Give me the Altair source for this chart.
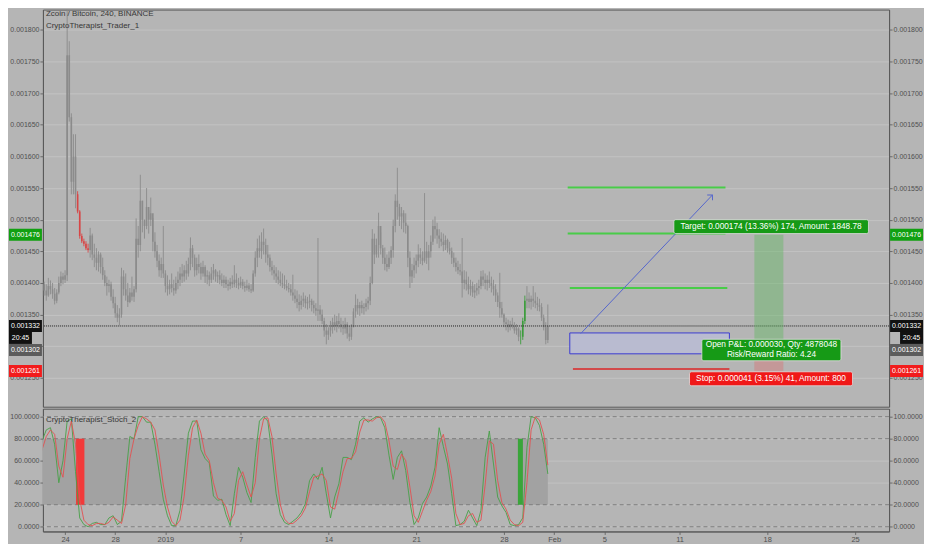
import altair as alt
import pandas as pd

# ---------------- data (prices in units of 1e-6 BTC) ----------------
START = "2018-12-21 20:00"      # first 4h bar
FIRST_OPEN = 1392
HIGH = [
    1395, 1400, 1405, 1402, 1398, 1408, 1404, 1400, 1392, 1390,
    1410, 1418, 1416, 1420, 1880, 1782, 1668, 1635, 1635, 1545,
    1515, 1478, 1470, 1466, 1462, 1487, 1478, 1462, 1455, 1450,
    1448, 1440, 1420, 1410, 1405, 1402, 1390, 1378, 1365, 1360,
    1424, 1420, 1415, 1400, 1392, 1410, 1395, 1502, 1490, 1571,
    1530, 1500, 1550, 1515, 1535, 1503, 1480, 1460, 1445, 1440,
    1490, 1420, 1412, 1405, 1415, 1405, 1410, 1418, 1425, 1430,
    1428, 1435, 1440, 1472, 1460, 1445, 1440, 1445, 1432, 1435,
    1428, 1420, 1418, 1425, 1430, 1422, 1418, 1420, 1415, 1412,
    1410, 1405, 1408, 1412, 1428, 1415, 1408, 1410, 1406, 1402,
    1405, 1400, 1398, 1420, 1450, 1470, 1475, 1480, 1486, 1470,
    1460, 1445, 1435, 1428, 1425, 1420, 1418, 1415, 1412, 1405,
    1400, 1398, 1413, 1390, 1388, 1382, 1380, 1385, 1380, 1378,
    1382, 1375, 1372, 1368, 1471, 1365, 1358, 1345, 1335, 1330,
    1340, 1345, 1350, 1348, 1352, 1345, 1340, 1345, 1338, 1332,
    1335, 1360, 1382, 1375, 1370, 1372, 1368, 1375, 1378, 1410,
    1485, 1478, 1470, 1511, 1480, 1460, 1456, 1445, 1450, 1458,
    1500, 1540, 1582, 1525, 1520, 1515, 1510, 1492, 1450, 1430,
    1440, 1445, 1461, 1455, 1450, 1542, 1465, 1460, 1475, 1500,
    1505, 1495, 1485, 1480, 1478, 1475, 1470, 1465, 1456, 1448,
    1440, 1435, 1430, 1471, 1420, 1418, 1410, 1405, 1402, 1398,
    1400, 1405, 1419, 1420, 1415, 1412, 1418, 1410, 1405, 1398,
    1385, 1416, 1370, 1352, 1345, 1342, 1340, 1345, 1338, 1335,
    1330, 1325, 1345, 1380, 1395, 1385, 1380, 1395, 1385, 1378,
    1375, 1368, 1350, 1338, 1366,
]
LOW = [
    1370, 1372, 1378, 1380, 1372, 1378, 1382, 1375, 1366, 1368,
    1382, 1395, 1398, 1400, 1403, 1655, 1540, 1540, 1518, 1510,
    1470, 1463, 1458, 1452, 1448, 1440, 1436, 1425, 1420, 1418,
    1415, 1405, 1395, 1380, 1385, 1372, 1360, 1345, 1338, 1333,
    1345, 1380, 1372, 1362, 1368, 1372, 1370, 1385, 1440, 1450,
    1480, 1470, 1485, 1478, 1490, 1450, 1440, 1425, 1410, 1408,
    1408, 1385, 1380, 1382, 1385, 1380, 1383, 1390, 1395, 1400,
    1402, 1405, 1410, 1420, 1425, 1410, 1412, 1415, 1405, 1410,
    1400, 1398, 1395, 1400, 1405, 1402, 1400, 1398, 1395, 1392,
    1392, 1388, 1390, 1392, 1393, 1392, 1390, 1392, 1390, 1386,
    1388, 1386, 1384, 1386, 1410, 1425, 1440, 1438, 1445, 1432,
    1428, 1418, 1412, 1405, 1400, 1398, 1395, 1392, 1390, 1388,
    1385, 1380, 1372, 1368, 1360, 1355, 1358, 1362, 1360, 1358,
    1360, 1355, 1352, 1348, 1340, 1340, 1335, 1315, 1303, 1310,
    1315, 1320, 1325, 1322, 1328, 1322, 1318, 1320, 1312, 1308,
    1310, 1330, 1345, 1350, 1348, 1352, 1350, 1355, 1358, 1365,
    1398, 1430, 1440, 1440, 1445, 1430, 1420, 1418, 1422, 1430,
    1440, 1480, 1500, 1490, 1485, 1480, 1478, 1425, 1392, 1400,
    1408, 1415, 1425, 1430, 1428, 1432, 1430, 1420, 1440, 1460,
    1470, 1462, 1455, 1458, 1450, 1452, 1448, 1445, 1430, 1425,
    1418, 1414, 1412, 1377, 1390, 1388, 1382, 1380, 1378, 1376,
    1380, 1382, 1390, 1395, 1390, 1388, 1392, 1385, 1380, 1370,
    1362, 1345, 1345, 1330, 1325, 1322, 1325, 1328, 1320, 1318,
    1308, 1303, 1310, 1335, 1360, 1360, 1358, 1362, 1360, 1356,
    1355, 1340, 1325, 1303, 1305,
]
CLOSE = [
    1385, 1380, 1398, 1388, 1380, 1395, 1390, 1383, 1372, 1385,
    1400, 1410, 1405, 1412, 1760, 1662, 1560, 1600, 1540, 1513,
    1474, 1466, 1462, 1455, 1452, 1475, 1445, 1440, 1432, 1445,
    1425, 1412, 1400, 1395, 1398, 1378, 1368, 1352, 1345, 1350,
    1410, 1390, 1380, 1370, 1385, 1378, 1390, 1470, 1460, 1530,
    1500, 1490, 1520, 1500, 1510, 1465, 1450, 1435, 1420, 1430,
    1415, 1395, 1390, 1398, 1392, 1388, 1400, 1405, 1415, 1410,
    1420, 1415, 1430, 1455, 1440, 1420, 1430, 1425, 1415, 1425,
    1410, 1412, 1405, 1415, 1420, 1410, 1412, 1405, 1400, 1405,
    1398, 1395, 1402, 1398, 1405, 1400, 1396, 1402, 1395, 1392,
    1396, 1390, 1388, 1415, 1440, 1455, 1450, 1465, 1460, 1445,
    1440, 1425, 1420, 1415, 1410, 1405, 1400, 1398, 1395, 1392,
    1390, 1385, 1380, 1375, 1370, 1365, 1372, 1375, 1368, 1370,
    1372, 1365, 1360, 1356, 1358, 1350, 1340, 1325, 1318, 1325,
    1330, 1338, 1332, 1340, 1335, 1330, 1328, 1335, 1320, 1315,
    1330, 1355, 1365, 1360, 1365, 1360, 1362, 1368, 1372, 1400,
    1470, 1445, 1460, 1490, 1455, 1440, 1430, 1425, 1440, 1452,
    1490, 1530, 1520, 1505, 1510, 1495, 1490, 1440, 1410, 1420,
    1428, 1435, 1445, 1440, 1435, 1450, 1440, 1450, 1465, 1490,
    1485, 1475, 1470, 1465, 1460, 1468, 1455, 1450, 1440, 1432,
    1425, 1420, 1418, 1400, 1405, 1398, 1390, 1395, 1385, 1388,
    1392, 1395, 1410, 1405, 1400, 1405, 1400, 1395, 1390, 1380,
    1370, 1360, 1350, 1338, 1335, 1330, 1335, 1332, 1325, 1328,
    1315, 1315, 1340, 1372, 1375, 1370, 1375, 1372, 1368, 1365,
    1362, 1345, 1330, 1310, 1332,
]
RED_BARS = range(19, 25)
GREEN_BARS = range(231, 234)

# stochastic, one value every second 4h bar
STOCH_K = [
    62, 78, 88, 90, 75, 40, 60, 96, 98, 50, 8, 2, 0, 3, 4, 2, 2, 8, 10, 2,
    5, 45, 82, 80, 100, 100, 95, 95, 75, 50, 25, 10, 1, 1, 15, 48, 85, 96, 96, 70,
    62, 58, 28, 24, 25, 11, 1, 30, 54, 45, 31, 22, 63, 96, 100, 96, 66, 30, 11, 4,
    2, 5, 8, 13, 21, 42, 48, 43, 54, 30, 8, 27, 39, 63, 63, 61, 75, 96, 99, 95,
    98, 100, 99, 90, 65, 43, 63, 69, 51, 22, 2, 8, 21, 27, 37, 54, 90, 73, 57, 30,
    1, 2, 5, 15, 8, 1, 15, 63, 87, 57, 27, 19, 13, 2, 1, 2, 8, 72, 100, 99,
    92, 75, 48,
]
STOCH_D = [
    60, 70, 82, 88, 84, 55, 45, 80, 96, 75, 25, 6, 2, 1, 3, 3, 2, 4, 9, 6,
    3, 20, 62, 80, 92, 100, 98, 95, 88, 65, 38, 18, 5, 1, 6, 28, 65, 90, 97, 85,
    66, 60, 40, 26, 24, 18, 5, 12, 42, 50, 38, 27, 40, 80, 98, 99, 82, 48, 20, 7,
    3, 3, 6, 10, 17, 32, 45, 46, 48, 42, 18, 16, 32, 50, 62, 62, 68, 86, 97, 97,
    96, 99, 100, 95, 78, 55, 52, 66, 60, 36, 10, 4, 14, 24, 32, 46, 75, 84, 65, 44,
    12, 2, 3, 10, 12, 4, 6, 38, 78, 75, 42, 22, 16, 6, 2, 1, 4, 40, 88, 100,
    97, 84, 56,
]
STOCH_SIGNALS = [("2018-12-24 21:00", "2018-12-25 13:00", "#f23a3a"),
                 ("2019-01-29 02:40", "2019-01-29 12:15", "#3aa53a")]

PRICE_TICKS = [1250, 1300, 1350, 1400, 1450, 1500, 1550, 1600, 1650, 1700, 1750, 1800]
HIDDEN_TICK_LABEL = 1300   # covered by the price tags in the reference
STOCH_TICKS = [0, 20, 40, 60, 80, 100]
STOCH_LEVELS = [0, 20, 80, 100]
X_TICKS = ["2018-12-24", "2018-12-28", "2019-01-01", "2019-01-07", "2019-01-14",
           "2019-01-21", "2019-01-28", "2019-02-01", "2019-02-05", "2019-02-11",
           "2019-02-18", "2019-02-25"]
X_RANGE = ["2018-12-22 05:36", "2019-02-27 17:07"]

LAST_PRICE = 1332
ENTRY = 1302
TARGET = 1476
STOP = 1261

# long-position drawing
TP_LINES = [("2019-02-02 02:00", "2019-02-14 16:00", 1551, "#48cc48"),
            ("2019-02-02 02:00", "2019-02-14 16:00", 1478, "#48cc48"),
            ("2019-02-02 06:00", "2019-02-14 19:30", 1392, "#48cc48"),
            ("2019-02-02 12:00", "2019-02-14 23:30", 1264, "#d24a4a")]
ENTRY_BOX = ("2019-02-02 06:00", "2019-02-14 23:30", 1288, 1321)
ARROW = [("2019-02-03 03:00", 1320), ("2019-02-13 15:00", 1539)]
ZONE = ("2019-02-16 23:15", "2019-02-19 06:45")
LABELS = [
    ("2019-02-10 13:10", "2019-02-26 01:40", 1478, 1500, "#169a16"),
    ("2019-02-12 18:45", "2019-02-23 21:00", 1277, 1311, "#169a16"),
    ("2019-02-11 19:10", "2019-02-24 19:10", 1237.5, 1259.6, "#f01818"),
]
LABEL_TEXT = [
    ("2019-02-18 07:25", 1489, "Target: 0.000174 (13.36%) 174, Amount: 1848.78"),
    ("2019-02-18 08:00", 1302, "Open P&L: 0.000030, Qty: 4878048"),
    ("2019-02-18 08:00", 1286.5, "Risk/Reward Ratio: 4.24"),
    ("2019-02-18 07:10", 1248.5, "Stop: 0.000041 (3.15%) 41, Amount: 800"),
]
TAGS = [("0.001476", TARGET, "#11a011"), ("0.001332", LAST_PRICE, "#111111"),
        ("0.001261", STOP, "#f21c1c")]
ENTRY_TAG = ("0.001302", ENTRY, "#5c5c5c")
COUNTDOWN = "20:45"

# ---------------- frames ----------------
n = len(CLOSE)
times = pd.date_range(START, periods=n, freq="4h")
opens = [FIRST_OPEN] + CLOSE[:-1]
kind = ["r" if i in RED_BARS else ("g" if i in GREEN_BARS else "n") for i in range(n)]
bars = pd.DataFrame({"t": times, "o": opens, "h": HIGH, "l": LOW, "c": CLOSE, "k": kind})
stoch = pd.DataFrame({"t": times[::2], "K": STOCH_K, "D": STOCH_D})

T = pd.Timestamp


def dt(s):
    ts = T(s)
    return alt.DateTime(year=ts.year, month=ts.month, date=ts.day,
                        hours=ts.hour, minutes=ts.minute)


EXT = 34
W, HP, HS = 848, 398, 123
FONT = "Liberation Sans"
BG = "#b5b5b5"
LBL = "#505050"

XS = alt.Scale(domain=[dt(X_RANGE[0]), dt(X_RANGE[1])])
YS = alt.Scale(domain=[1204.4, 1832.0], nice=False, zero=False)
SS = alt.Scale(domain=[-4.26, 107.25], nice=False, zero=False)

price_fmt = (f"datum.value == {HIDDEN_TICK_LABEL} ? '' : "
             "format(datum.value / 1000000, '.6f')")


def yaxis(orient, values, expr=None, fmt=None, grid=False):
    kw = dict(orient=orient, values=values, grid=grid, gridColor="#c3c3c3",
              tickColor="#6a6a6a", domainColor="#5a5a5a", labelColor=LBL,
              labelFontSize=7, tickSize=3, labelPadding=1, minExtent=EXT,
              maxExtent=EXT, title=None)
    if expr:
        kw["labelExpr"] = expr
    if fmt:
        kw["format"] = fmt
    return alt.Axis(**kw)


def X(f="t"):
    return alt.X(f"{f}:T", scale=XS, axis=None, title=None)


def Y(f, scale=YS, axis=None):
    return alt.Y(f"{f}:Q", scale=scale, axis=axis, title=None)


bar_color = alt.Color("k:N", legend=None,
                      scale=alt.Scale(domain=["n", "r", "g"],
                                      range=["#8b8b8b", "#d84545", "#3c9c3c"]))

# ---------------- price panel ----------------
wick = alt.Chart(bars).mark_rule(strokeWidth=0.9, clip=True).encode(
    x=X(), y=Y("h", axis=yaxis("left", PRICE_TICKS, price_fmt, grid=True)),
    y2="l:Q", color=bar_color)
body = alt.Chart(bars).mark_rule(strokeWidth=1.6, clip=True).encode(
    x=X(), y=Y("o"), y2="c:Q", color=bar_color)

last_line = alt.Chart(pd.DataFrame({"p": [LAST_PRICE]})).mark_rule(
    color="#1e1e1e", strokeDash=[1, 1], strokeWidth=1).encode(
    y=Y("p", axis=yaxis("right", PRICE_TICKS, price_fmt)))

tp = pd.DataFrame(TP_LINES, columns=["t1", "t2", "p", "col"])
tp["t1"] = pd.to_datetime(tp["t1"]); tp["t2"] = pd.to_datetime(tp["t2"])
tp_lines = alt.Chart(tp).mark_rule(strokeWidth=2).encode(
    x=X("t1"), x2="t2:T", y=Y("p"), color=alt.Color("col:N", scale=None))

zone = pd.DataFrame({"t1": [T(ZONE[0])] * 2, "t2": [T(ZONE[1])] * 2,
                     "p1": [ENTRY, STOP], "p2": [TARGET, ENTRY],
                     "col": ["#5cb85c", "#e06060"], "op": [0.42, 0.35]})
zone_rect = alt.Chart(zone).mark_rect().encode(
    x=X("t1"), x2="t2:T", y=Y("p1"), y2="p2:Q",
    color=alt.Color("col:N", scale=None), opacity=alt.Opacity("op:Q", scale=None))

eb = pd.DataFrame({"t1": [T(ENTRY_BOX[0])], "t2": [T(ENTRY_BOX[1])],
                   "p1": [ENTRY_BOX[2]], "p2": [ENTRY_BOX[3]]})
entry_box = alt.Chart(eb).mark_rect(fill="#b9bbd0", stroke="#3b3bd2", strokeWidth=1).encode(
    x=X("t1"), x2="t2:T", y=Y("p1"), y2="p2:Q")

arr = pd.DataFrame({"t": [T(a[0]) for a in ARROW], "p": [a[1] for a in ARROW]})
arrow_line = alt.Chart(arr).mark_line(color="#5566cc", strokeWidth=1).encode(x=X(), y=Y("p"))
arrow_head = alt.Chart(arr.iloc[[1]]).mark_point(
    shape="M-1,1L0,0L1,1", filled=False, size=55, angle=44, color="#5566cc",
    strokeWidth=1, opacity=1).encode(x=X(), y=Y("p"))

lb = pd.DataFrame(LABELS, columns=["t1", "t2", "p1", "p2", "col"])
lb["t1"] = pd.to_datetime(lb["t1"]); lb["t2"] = pd.to_datetime(lb["t2"])
label_boxes = alt.Chart(lb).mark_rect(cornerRadius=2, stroke="#dedede", strokeWidth=0.8).encode(
    x=X("t1"), x2="t2:T", y=Y("p1"), y2="p2:Q", fill=alt.Fill("col:N", scale=None))
lt = pd.DataFrame(LABEL_TEXT, columns=["t", "p", "txt"])
lt["t"] = pd.to_datetime(lt["t"])
label_text = alt.Chart(lt).mark_text(color="white", fontSize=8.3, baseline="middle").encode(
    x=X(), y=Y("p"), text="txt:N")

tags = pd.DataFrame(TAGS, columns=["txt", "p", "col"])
tag_box_l = alt.Chart(tags).mark_rect(yOffset=-6, y2Offset=6).encode(
    x=alt.value(-EXT), x2=alt.value(-1), y=Y("p"), y2="p:Q", fill=alt.Fill("col:N", scale=None))
tag_txt_l = alt.Chart(tags).mark_text(color="white", fontSize=7, baseline="middle").encode(
    x=alt.value(-EXT / 2 - 0.5), y=Y("p"), text="txt:N")
tag_box_r = alt.Chart(tags).mark_rect(yOffset=-6, y2Offset=6).encode(
    x=alt.value(W + 1), x2=alt.value(W + EXT), y=Y("p"), y2="p:Q", fill=alt.Fill("col:N", scale=None))
tag_txt_r = alt.Chart(tags).mark_text(color="white", fontSize=7, baseline="middle").encode(
    x=alt.value(W + EXT / 2 + 0.5), y=Y("p"), text="txt:N")

# entry tag sits just under the countdown tag
et = pd.DataFrame([ENTRY_TAG], columns=["txt", "p", "col"])
et_box_l = alt.Chart(et).mark_rect(yOffset=-1, y2Offset=11).encode(
    x=alt.value(-EXT), x2=alt.value(-1), y=Y("p"), y2="p:Q", fill=alt.Fill("col:N", scale=None))
et_txt_l = alt.Chart(et).mark_text(color="white", fontSize=7, baseline="middle", dy=5).encode(
    x=alt.value(-EXT / 2 - 0.5), y=Y("p"), text="txt:N")
et_box_r = alt.Chart(et).mark_rect(yOffset=-1, y2Offset=11).encode(
    x=alt.value(W + 1), x2=alt.value(W + EXT), y=Y("p"), y2="p:Q", fill=alt.Fill("col:N", scale=None))
et_txt_r = alt.Chart(et).mark_text(color="white", fontSize=7, baseline="middle", dy=5).encode(
    x=alt.value(W + EXT / 2 + 0.5), y=Y("p"), text="txt:N")

cd = pd.DataFrame({"txt": [COUNTDOWN], "p": [LAST_PRICE]})
cd_box_l = alt.Chart(cd).mark_rect(yOffset=6, y2Offset=18, color="#111111").encode(
    x=alt.value(-EXT), x2=alt.value(-EXT + 23), y=Y("p"), y2="p:Q")
cd_txt_l = alt.Chart(cd).mark_text(color="white", fontSize=7, baseline="middle", dy=12).encode(
    x=alt.value(-EXT + 11.5), y=Y("p"), text="txt:N")
cd_box_r = alt.Chart(cd).mark_rect(yOffset=6, y2Offset=18, color="#111111").encode(
    x=alt.value(W + EXT - 23), x2=alt.value(W + EXT), y=Y("p"), y2="p:Q")
cd_txt_r = alt.Chart(cd).mark_text(color="white", fontSize=7, baseline="middle", dy=12).encode(
    x=alt.value(W + EXT - 11.5), y=Y("p"), text="txt:N")

titles = pd.DataFrame({"txt": ["Zcoin / Bitcoin, 240, BINANCE", "CryptoTherapist_Trader_1"]})
title_1 = alt.Chart(titles.iloc[[0]]).mark_text(align="left", baseline="middle", fontSize=8,
                                                color="#383838").encode(
    x=alt.value(3), y=alt.value(4), text="txt:N")
title_2 = alt.Chart(titles.iloc[[1]]).mark_text(align="left", baseline="middle", fontSize=8,
                                                color="#383838").encode(
    x=alt.value(3), y=alt.value(16), text="txt:N")

price = alt.layer(
    wick, body, last_line, tp_lines, zone_rect, entry_box, arrow_line, arrow_head,
    label_boxes, label_text, tag_box_l, tag_txt_l, tag_box_r, tag_txt_r,
    et_box_l, et_txt_l, et_box_r, et_txt_r,
    cd_box_l, cd_txt_l, cd_box_r, cd_txt_r, title_1, title_2,
).resolve_axis(x="independent", y="independent").properties(width=W, height=HP)

# ---------------- stochastic panel ----------------
x_axis = alt.Axis(orient="bottom", values=[dt(s) for s in X_TICKS],
                  labelExpr="month(datum.value) == 0 && date(datum.value) == 1 ? '2019' : "
                            "(date(datum.value) == 1 ? timeFormat(datum.value, '%b') : '' + date(datum.value))",
                  grid=False, tickColor="#6a6a6a", domainColor="#5a5a5a", labelColor=LBL,
                  labelFontSize=7.5, tickSize=3, labelPadding=1, minExtent=11, maxExtent=11,
                  title=None)
band = alt.Chart(pd.DataFrame({"t1": [times[0]], "t2": [times[-1]], "lo": [20], "hi": [80]})).mark_rect(
    fill="#a2a2a2", clip=True).encode(
    x=alt.X("t1:T", scale=XS, axis=x_axis, title=None), x2="t2:T",
    y=Y("lo", SS, yaxis("left", STOCH_TICKS, fmt=".4f", grid=True)), y2="hi:Q")
levels = alt.Chart(pd.DataFrame({"v": STOCH_LEVELS})).mark_rule(
    strokeDash=[4, 3], color="#7c7c7c", strokeWidth=1).encode(
    y=Y("v", SS, yaxis("right", STOCH_TICKS, fmt=".4f")))
sig = pd.DataFrame(STOCH_SIGNALS, columns=["t1", "t2", "col"])
sig["t1"] = pd.to_datetime(sig["t1"]); sig["t2"] = pd.to_datetime(sig["t2"])
sig["lo"] = 20; sig["hi"] = 80
signals = alt.Chart(sig).mark_rect().encode(
    x=X("t1"), x2="t2:T", y=Y("lo", SS), y2="hi:Q", fill=alt.Fill("col:N", scale=None))
k_line = alt.Chart(stoch).mark_line(color="#48a048", strokeWidth=0.9, clip=True).encode(
    x=X(), y=Y("K", SS))
d_line = alt.Chart(stoch).mark_line(color="#e25252", strokeWidth=0.9, clip=True).encode(
    x=X(), y=Y("D", SS))
stoch_title = alt.Chart(pd.DataFrame({"txt": ["CryptoTherapist_Stoch_2"]})).mark_text(
    align="left", baseline="middle", fontSize=8, color="#383838").encode(
    x=alt.value(3), y=alt.value(11), text="txt:N")

stoch_panel = alt.layer(band, levels, signals, k_line, d_line, stoch_title).resolve_axis(
    x="independent", y="independent").properties(width=W, height=HS)

chart = alt.vconcat(price, stoch_panel, spacing=0).properties(
    padding=0, background=BG
).configure(font=FONT).configure_view(fill=BG, stroke="#5a5a5a", strokeWidth=1)

chart.save("out.html", embed_options={"renderer": "svg", "actions": False})
